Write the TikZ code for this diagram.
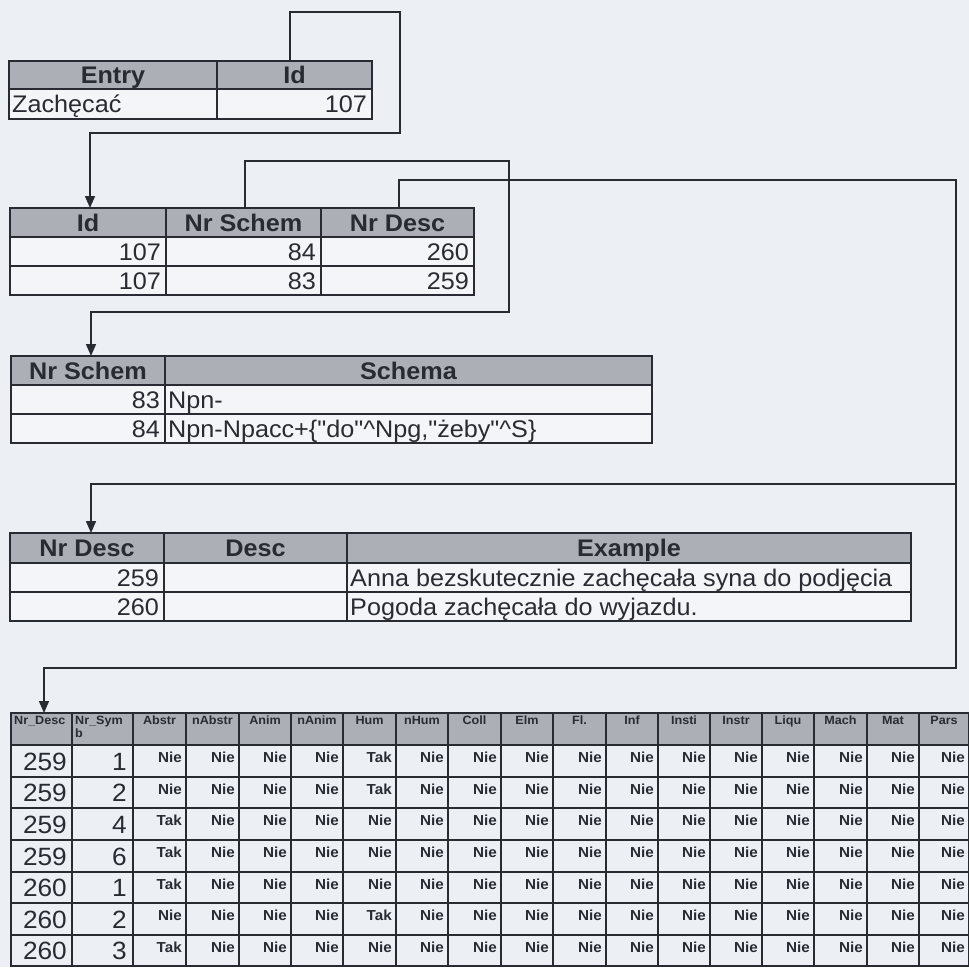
\documentclass[tikz,border=0pt]{standalone}
\usepackage{fontspec}
\setmainfont[FakeStretch=1.05,Ligatures=TeXOff]{Liberation Sans}
\usetikzlibrary{arrows.meta}
\definecolor{bg}{RGB}{236,239,244}
\definecolor{ink}{RGB}{40,43,50}
\definecolor{hdr}{RGB}{172,175,181}
\definecolor{cellw}{RGB}{244,245,248}
\tikzset{
  cellbase/.style={draw=ink, line width=1.3pt, inner sep=0pt, outer sep=0pt},
  hd/.style={fill=hdr},
  bd/.style={fill=cellw},
  bd5/.style={fill=bg},
  big/.style={font=\fontsize{24}{26}\selectfont, text=ink, inner sep=0pt, text height=17pt, text depth=0pt},
  bigb/.style={big, font=\fontsize{24}{26}\selectfont\bfseries},
  num/.style={font=\fontsize{25}{27}\selectfont, text=ink, inner sep=0pt, text height=18pt, text depth=0pt},
  sm/.style={font=\fontsize{14.5}{16}\selectfont\bfseries, text=ink, inner sep=0pt, text height=11pt, text depth=0pt},
  hsm/.style={font=\fontsize{12}{13}\selectfont\bfseries, text=ink, inner sep=0pt},
  conn/.style={draw=ink, line width=1.4pt},
  arr/.style={conn, -{Triangle[width=10pt,length=12pt]}}
}
\newcommand\cel[6]{\node[cellbase,#6,minimum width={(#4-#2)*1pt},minimum height={(#5-#3)*1pt},anchor=north west] (#1) at (#2,#3) {};}
\newcommand\txR[3]{\node[#3,anchor=east] (#1-t) at ([xshift=-5pt]#1.east) {#2};}
\newcommand\txL[3]{\node[#3,anchor=west] (#1-t) at ([xshift=3pt]#1.west) {#2};}
\newcommand\txC[3]{\node[#3] (#1-t) at (#1.center) {#2};}
\begin{document}
\begin{tikzpicture}[x=1pt,y=-1pt]
\useasboundingbox (0,0) rectangle (969,967);
\fill[bg] (0,0) rectangle (969,967);

% Table 1
\cel{t1h1}{9}{61}{217}{89}{hd} \txC{t1h1}{Entry}{bigb}
\cel{t1h2}{217}{61}{372}{89}{hd} \txC{t1h2}{Id}{bigb}
\cel{t1a1}{9}{89}{217}{119}{bd} \txL{t1a1}{Zachęcać}{big}
\cel{t1a2}{217}{89}{372}{119}{bd} \txR{t1a2}{107}{big}

% Table 2
\cel{t2h1}{10}{208}{166}{237}{hd} \txC{t2h1}{Id}{bigb}
\cel{t2h2}{166}{208}{321}{237}{hd} \txC{t2h2}{Nr Schem}{bigb}
\cel{t2h3}{321}{208}{474}{237}{hd} \txC{t2h3}{Nr Desc}{bigb}
\cel{t2a1}{10}{237}{166}{266}{bd} \txR{t2a1}{107}{big}
\cel{t2a2}{166}{237}{321}{266}{bd} \txR{t2a2}{84}{big}
\cel{t2a3}{321}{237}{474}{266}{bd} \txR{t2a3}{260}{big}
\cel{t2b1}{10}{266}{166}{295}{bd} \txR{t2b1}{107}{big}
\cel{t2b2}{166}{266}{321}{295}{bd} \txR{t2b2}{83}{big}
\cel{t2b3}{321}{266}{474}{295}{bd} \txR{t2b3}{259}{big}

% Table 3
\cel{t3h1}{11}{356}{165}{385}{hd} \txC{t3h1}{Nr Schem}{bigb}
\cel{t3h2}{165}{356}{652}{385}{hd} \txC{t3h2}{Schema}{bigb}
\cel{t3a1}{11}{385}{165}{414}{bd} \txR{t3a1}{83}{big}
\cel{t3a2}{165}{385}{652}{414}{bd} \txL{t3a2}{Npn-}{big}
\cel{t3b1}{11}{414}{165}{443}{bd} \txR{t3b1}{84}{big}
\cel{t3b2}{165}{414}{652}{443}{bd} \txL{t3b2}{Npn-Npacc+\{"do"\^{}Npg,"żeby"\^{}S\}}{big}

% Table 4
\cel{t4h1}{10}{533}{164}{563}{hd} \txC{t4h1}{Nr Desc}{bigb}
\cel{t4h2}{164}{533}{347}{563}{hd} \txC{t4h2}{Desc}{bigb}
\cel{t4h3}{347}{533}{911}{563}{hd} \txC{t4h3}{Example}{bigb}
\cel{t4a1}{10}{563}{164}{592}{bd} \txR{t4a1}{259}{big}
\cel{t4a2}{164}{563}{347}{592}{bd}
\cel{t4a3}{347}{563}{911}{592}{bd} \txL{t4a3}{Anna bezskutecznie zachęcała syna do podjęcia}{big}
\cel{t4b1}{10}{592}{164}{621}{bd} \txR{t4b1}{260}{big}
\cel{t4b2}{164}{592}{347}{621}{bd}
\cel{t4b3}{347}{592}{911}{621}{bd} \txL{t4b3}{Pogoda zachęcała do wyjazdu.}{big}

% Table 5 header
\foreach \xa/\xb/\lab [count=\i] in {11/72/{Nr\_Desc}, 72/133/{Nr\_Sym\\b}, 133/186/Abstr, 186/239/nAbstr, 239/291/Anim, 291/343/nAnim, 343/396/Hum, 396/448/nHum, 448/501/Coll, 501/553/Elm, 553/606/Fl., 606/658/Inf, 658/710/Insti, 710/762/Instr, 762/814/Liqu, 814/867/Mach, 867/919/Mat, 919/969/Pars} {
  \cel{t5h\i}{\xa}{713}{\xb}{745}{hd}
  \ifnum\i<3
    \node[hsm,anchor=north west,align=left] (t5h\i-t) at ([xshift=3pt,yshift=-3pt]t5h\i.north west) {\lab};
  \else
    \node[hsm,anchor=north] (t5h\i-t) at ([yshift=-3pt]t5h\i.north) {\lab};
  \fi
}
% Table 5 rows
\foreach \ya/\yb/\dd/\ss/\ab/\hu [count=\r] in {745/777/259/1/Nie/Tak, 777/808/259/2/Nie/Tak, 808/840/259/4/Tak/Nie, 840/872/259/6/Tak/Nie, 872/903/260/1/Tak/Nie, 903/935/260/2/Nie/Tak, 935/966/260/3/Tak/Nie} {
  \foreach \xa/\xb [count=\i] in {11/72, 72/133, 133/186, 186/239, 239/291, 291/343, 343/396, 396/448, 448/501, 501/553, 553/606, 606/658, 658/710, 710/762, 762/814, 814/867, 867/919, 919/969} {
    \cel{t5r\r-c\i}{\xa}{\ya}{\xb}{\yb}{bd5}
    \ifnum\i=1
      \node[num,anchor=east] (t5r\r-c\i-t) at ([xshift=-5pt]t5r\r-c\i.east) {\dd};
    \else\ifnum\i=2
      \node[num,anchor=east] (t5r\r-c\i-t) at ([xshift=-6pt]t5r\r-c\i.east) {\ss};
    \else\ifnum\i=3
      \node[sm,anchor=north east] (t5r\r-c\i-t) at ([xshift=-4pt,yshift=-6pt]t5r\r-c\i.north east) {\ab};
    \else\ifnum\i=7
      \node[sm,anchor=north east] (t5r\r-c\i-t) at ([xshift=-4pt,yshift=-6pt]t5r\r-c\i.north east) {\hu};
    \else
      \node[sm,anchor=north east] (t5r\r-c\i-t) at ([xshift=-4pt,yshift=-6pt]t5r\r-c\i.north east) {Nie};
    \fi\fi\fi\fi
  }
}

% Connectors
\coordinate (k1) at (290,12);
\coordinate (k2) at (400,133);
\coordinate (k3) at (90,133);
\draw[arr] (k1 |- t1h2.north) -- (k1) -| (k2) -- (k3) -- (k3 |- t2h1.north);

\coordinate (m1) at (245,161);
\coordinate (m2) at (509,312);
\coordinate (m3) at (91,312);
\draw[arr] (m1 |- t2h2.north) -- (m1) -| (m2) -- (m3) -- (m3 |- t3h1.north);

\coordinate (n1) at (399,180);
\coordinate (n2) at (956,668);
\coordinate (n3) at (44,668);
\draw[arr] (n1 |- t2h3.north) -- (n1) -| (n2) -- (n3) -- (n3 |- t5h1.north);

\coordinate (n4) at (956,484);
\coordinate (n5) at (91,484);
\draw[arr] (n4) -- (n5) -- (n5 |- t4h1.north);
\end{tikzpicture}
\end{document}
